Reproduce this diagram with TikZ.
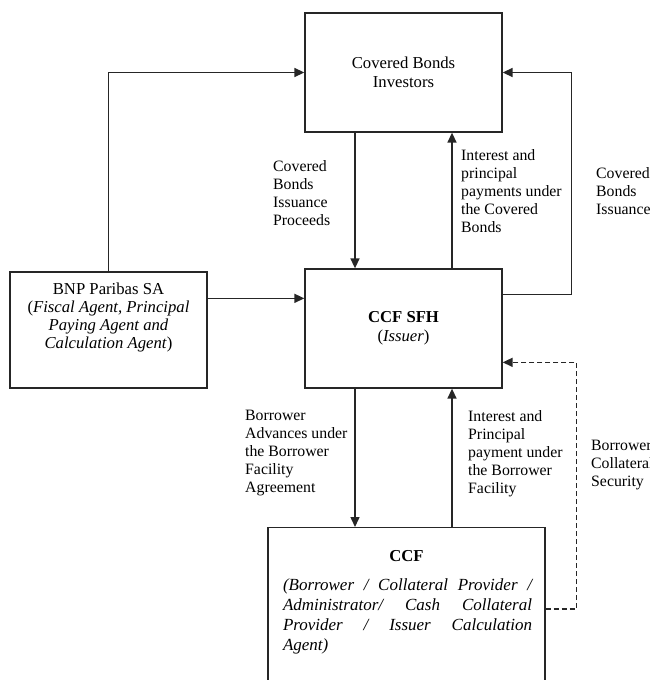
\documentclass[tikz,border=0pt]{standalone}
\usepackage{fontspec}
\setmainfont{Liberation Serif}
\usetikzlibrary{arrows.meta,calc}
\begin{document}
\begin{tikzpicture}[x=1pt,y=-1pt,
  box/.style={draw=black!85,line width=1.3pt,minimum width=197pt,inner sep=0pt},
  boxtext/.style={align=center,font=\fontsize{16.7}{19}\selectfont,inner sep=0pt},
  lbl/.style={align=left,anchor=north west,font=\fontsize{15.8}{18}\selectfont,inner sep=0pt},
  arr/.style={draw=black!85,line width=1.5pt,-{Triangle[length=10pt,width=9pt]}},
  dasharr/.style={draw=black!85,line width=1.5pt,dash pattern=on 5pt off 3pt,-{Triangle[length=10pt,width=9pt]}}]
\useasboundingbox (0,0) rectangle (650,680);
\clip (0,0) rectangle (650,680);
% boxes
\node[box,minimum height=119pt] (inv) at (403.5,72.5) {};
\node[boxtext] (invt) at (403.5,72) {Covered Bonds\\Investors};
\node[box,minimum height=119pt] (sfh) at (403.5,328.5) {};
\node[boxtext] (sfht) at (403.5,328) {\textbf{CCF SFH}\\(\textit{Issuer})};
\node[box,minimum height=116pt] (bnp) at (108.5,330) {};
\node[boxtext,font=\fontsize{16.7}{18}\selectfont] (bnpt) at (108.5,317.5) {BNP Paribas SA\\(\textit{Fiscal Agent, Principal}\\\textit{Paying Agent and}\\\textit{Calculation Agent})};
\node[box,minimum width=277pt,minimum height=190pt,anchor=north] (ccf) at (406.5,527) {};
\node[boxtext] (ccft) at (406.5,556) {\textbf{CCF}};
\node[anchor=north,text width=249pt,align=justify,inner sep=0pt,font=\fontsize{17}{20.3}\selectfont\itshape] (ccfd) at (407.5,578) {\hyphenpenalty=10000 (Borrower / Collateral Provider /\linebreak Administrator/ Cash Collateral\linebreak Provider / Issuer Calculation\linebreak Agent)};
% connectors
\draw[arr] (bnp.north) |- (inv.west);
\coordinate (b1) at ([yshift=-27pt]bnp.north east);
\draw[arr] (b1) -- (b1 -| sfh.west);
\coordinate (d1) at ([xshift=-48.5pt]inv.south);
\draw[arr] (d1) -- (d1 |- sfh.north);
\coordinate (u1) at ([xshift=48.5pt]sfh.north);
\draw[arr] (u1) -- (u1 |- inv.south);
\coordinate (r1) at ([yshift=-26pt]sfh.north east);
\draw[arr] (r1) -- ++(69,0) |- (inv.east);
\coordinate (d2) at ([xshift=-48.5pt]sfh.south);
\draw[arr] (d2) -- (d2 |- ccf.north);
\coordinate (u2) at ([xshift=48.5pt]ccf.north -| sfh.south);
\draw[arr] (u2) -- (u2 |- sfh.south);
\coordinate (c1) at ([yshift=-82pt]ccf.north east);
\coordinate (c2) at ([yshift=-94pt]sfh.north east);
\draw[dasharr] (c1) -- ++(31,0) |- (c2);
% labels
\node[lbl] (l1) at (273,160) {Covered\\Bonds\\Issuance\\Proceeds};
\node[lbl] (l2) at (461,149) {Interest and\\principal\\payments under\\the Covered\\Bonds};
\node[lbl] (l3) at (596,167) {Covered\\Bonds\\Issuance};
\node[lbl] (l4) at (245,410) {Borrower\\Advances under\\the Borrower\\Facility\\Agreement};
\node[lbl] (l5) at (468,410) {Interest and\\Principal\\payment under\\the Borrower\\Facility};
\node[lbl] (l6) at (591,440) {Borrower\\Collateral\\Security};
\end{tikzpicture}
\end{document}
